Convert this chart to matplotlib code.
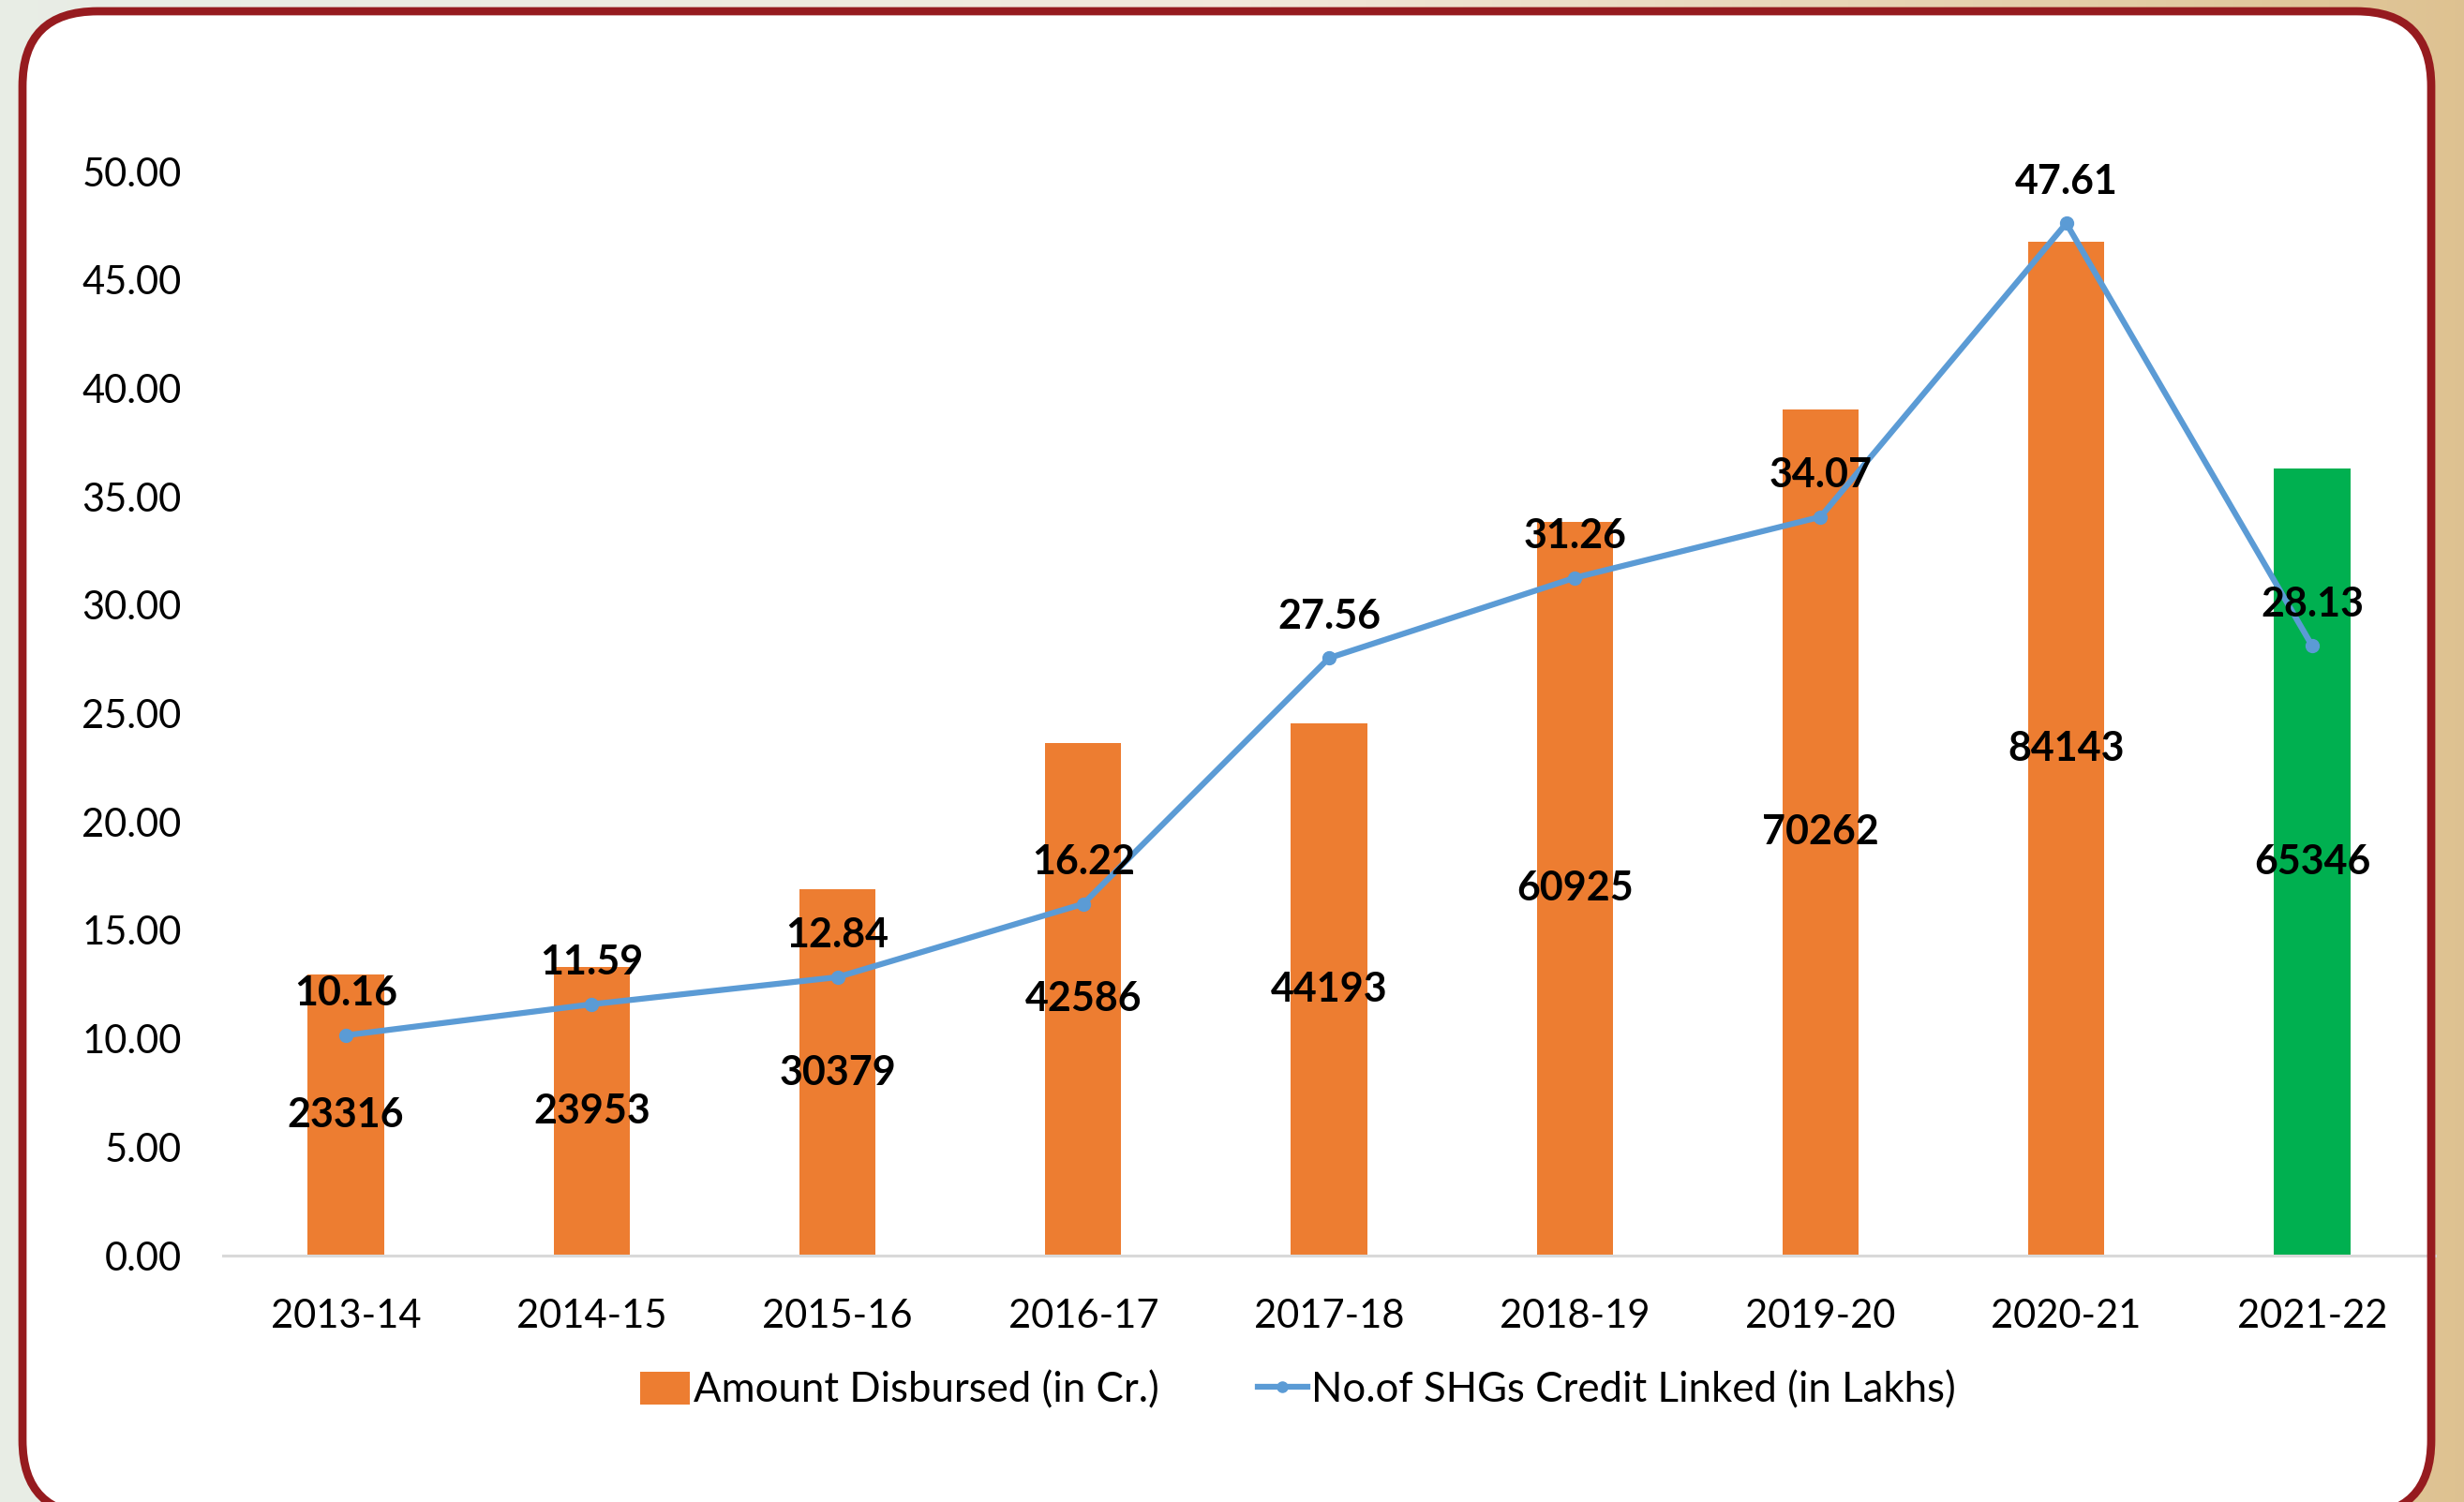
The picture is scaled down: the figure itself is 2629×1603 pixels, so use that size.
import numpy as np
import matplotlib
matplotlib.use("Agg")
import matplotlib.pyplot as plt
from matplotlib.patches import FancyBboxPatch, Patch
from matplotlib.lines import Line2D
from matplotlib.transforms import IdentityTransform

plt.rcParams['font.family'] = ['Lato', 'DejaVu Sans']

years = ['2013-14', '2014-15', '2015-16', '2016-17', '2017-18',
         '2018-19', '2019-20', '2020-21', '2021-22']
amount_disbursed = [23316, 23953, 30379, 42586, 44193, 60925, 70262, 84143, 65346]
shgs_linked = [10.16, 11.59, 12.84, 16.22, 27.56, 31.26, 34.07, 47.61, 28.13]
y_ticks = [0, 5, 10, 15, 20, 25, 30, 35, 40, 45, 50]

orange = '#ED7D31'
green = '#00B050'
blue = '#5B9BD5'
frame_red = '#961B1F'

W, H = 2629, 1603
fig = plt.figure(figsize=(W / 100, H / 100), dpi=100)

# textured backdrop approximated by a soft gradient
bg = fig.add_axes([0, 0, 1, 1], zorder=-5)
grad = np.linspace(0, 1, 256)
c_left = np.array([0.91, 0.93, 0.90])
c_mid = np.array([0.95, 0.91, 0.86])
c_right = np.array([0.87, 0.76, 0.57])
cols = np.where(grad[:, None] < 0.5,
                c_left + (c_mid - c_left) * (grad[:, None] / 0.5),
                c_mid + (c_right - c_mid) * ((grad[:, None] - 0.5) / 0.5))
bg.imshow(cols[None, :, :], aspect='auto', extent=[0, 1, 0, 1])
bg.axis('off')

# white card with rounded corners (pixel coordinates, origin bottom-left)
card_box = (24, -14, 2594 - 24, H - 12 + 14)
card = FancyBboxPatch((card_box[0], card_box[1]), card_box[2], card_box[3],
                      boxstyle='round,pad=0,rounding_size=80',
                      transform=IdentityTransform(), facecolor='white',
                      edgecolor='none', zorder=-3)
fig.add_artist(card)

ax = fig.add_axes([238 / W, 1 - 1340 / H, 2360 / W, (1340 - 183) / H])
ax2 = ax.twinx()
ax.set_zorder(ax2.get_zorder() + 1)
ax.patch.set_visible(False)
ax2.patch.set_visible(False)

x = np.arange(len(years))
bar_colors = [orange] * (len(years) - 1) + [green]
bars = ax2.bar(x, amount_disbursed, width=0.31, color=bar_colors, zorder=2)
ax2.set_ylim(0, 90000)
ax2.set_yticks([])
for v, b in zip(amount_disbursed, bars):
    ax2.text(b.get_x() + b.get_width() / 2, v / 2, str(v), ha='center', va='center',
             fontsize=31, fontweight='bold', color='black')

ax.plot(x, shgs_linked, color=blue, lw=4.5, marker='o', markersize=10,
        solid_joinstyle='round', zorder=3)
for xi, v in zip(x, shgs_linked):
    ax.annotate(f'{v:.2f}', (xi, v), xytext=(0, 32), textcoords='offset points',
                ha='center', va='center', fontsize=31, fontweight='bold',
                color='black', annotation_clip=False)

ax.set_xlim(-0.5, len(years) - 0.5)
ax.set_ylim(0, 50)
ax.set_yticks(y_ticks)
ax.set_yticklabels([f'{t:.2f}' for t in y_ticks])
ax.set_xticks(x)
ax.set_xticklabels(years)
ax.tick_params(axis='both', length=0, labelsize=30, colors='black')
ax.tick_params(axis='y', pad=32)
ax.tick_params(axis='x', pad=33)
for sp in ['top', 'right', 'left']:
    ax.spines[sp].set_visible(False)
    ax2.spines[sp].set_visible(False)
ax2.spines['bottom'].set_visible(False)
ax.spines['bottom'].set_color('#D9D9D9')
ax.spines['bottom'].set_linewidth(2.2)

handles = [Patch(facecolor=orange, edgecolor='none'),
           Line2D([0], [0], color=blue, lw=4.5, marker='o', markersize=8)]
fig.legend(handles, ['Amount Disbursed (in Cr.)', 'No.of SHGs Credit Linked (in Lakhs)'],
           loc='center', bbox_to_anchor=(1385 / W, 1 - 1484 / H), ncol=2,
           frameon=False, fontsize=31.5, handlelength=1.2, handleheight=0.85,
           handletextpad=0.1, columnspacing=2.4)

# dark red border drawn on top
border = FancyBboxPatch((card_box[0], card_box[1]), card_box[2], card_box[3],
                        boxstyle='round,pad=0,rounding_size=80',
                        transform=IdentityTransform(), facecolor='none',
                        edgecolor=frame_red, linewidth=6.3, zorder=10)
fig.add_artist(border)

fig.savefig('out.png', dpi=100)
